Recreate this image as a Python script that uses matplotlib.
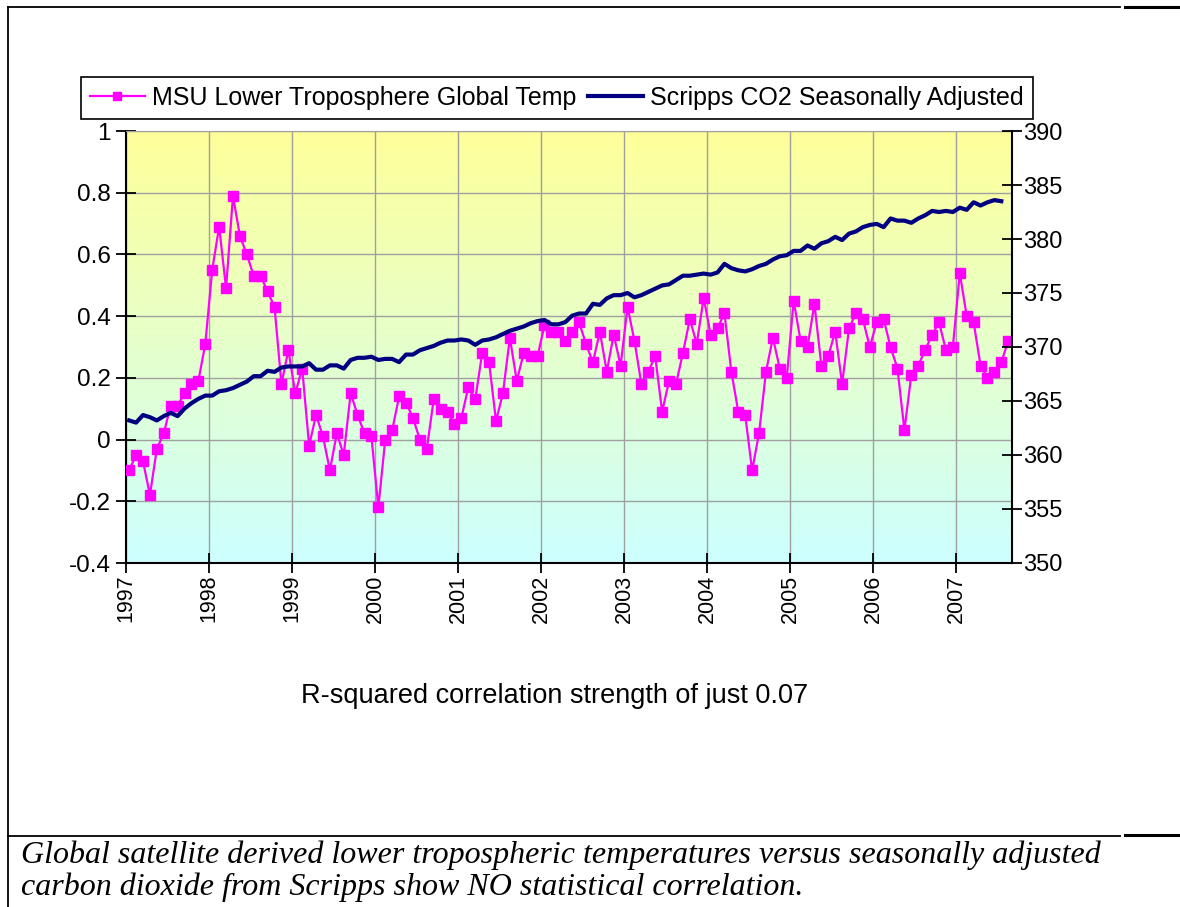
import numpy as np
import matplotlib
matplotlib.use('Agg')
import matplotlib.pyplot as plt
from matplotlib.colors import LinearSegmentedColormap
from matplotlib.lines import Line2D

plt.rcParams['font.family'] = ['Liberation Sans', 'DejaVu Sans']

# ── Data (monthly, Jan 1997 onward) ─────────────────────────────────────────
years = ['1997', '1998', '1999', '2000', '2001', '2002',
         '2003', '2004', '2005', '2006', '2007']

msu_temp = [
    -0.10, -0.05, -0.07, -0.18, -0.03, 0.02, 0.11, 0.11, 0.15, 0.18, 0.19, 0.31,
    0.55, 0.69, 0.49, 0.79, 0.66, 0.60, 0.53, 0.53, 0.48, 0.43, 0.18, 0.29,
    0.15, 0.23, -0.02, 0.08, 0.01, -0.10, 0.02, -0.05, 0.15, 0.08, 0.02, 0.01,
    -0.22, 0.00, 0.03, 0.14, 0.12, 0.07, 0.00, -0.03, 0.13, 0.10, 0.09, 0.05,
    0.07, 0.17, 0.13, 0.28, 0.25, 0.06, 0.15, 0.33, 0.19, 0.28, 0.27, 0.27,
    0.37, 0.35, 0.35, 0.32, 0.35, 0.38, 0.31, 0.25, 0.35, 0.22, 0.34, 0.24,
    0.43, 0.32, 0.18, 0.22, 0.27, 0.09, 0.19, 0.18, 0.28, 0.39, 0.31, 0.46,
    0.34, 0.36, 0.41, 0.22, 0.09, 0.08, -0.10, 0.02, 0.22, 0.33, 0.23, 0.20,
    0.45, 0.32, 0.30, 0.44, 0.24, 0.27, 0.35, 0.18, 0.36, 0.41, 0.39, 0.30,
    0.38, 0.39, 0.30, 0.23, 0.03, 0.21, 0.24, 0.29, 0.34, 0.38, 0.29, 0.30,
    0.54, 0.40, 0.38, 0.24, 0.20, 0.22, 0.25, 0.32,
]

co2 = [
    363.2, 363.0, 363.7, 363.5, 363.2, 363.6, 363.9, 363.6, 364.3, 364.8, 365.2, 365.5,
    365.5, 365.9, 366.0, 366.2, 366.5, 366.8, 367.3, 367.3, 367.8, 367.7, 368.1, 368.2,
    368.2, 368.2, 368.5, 367.9, 367.9, 368.3, 368.3, 368.0, 368.8, 369.0, 369.0, 369.1,
    368.8, 368.9, 368.9, 368.6, 369.3, 369.3, 369.7, 369.9, 370.1, 370.4, 370.6, 370.6,
    370.7, 370.6, 370.2, 370.6, 370.7, 370.9, 371.2, 371.5, 371.7, 371.9, 372.2, 372.4,
    372.5, 372.1, 372.1, 372.3, 372.9, 373.1, 373.1, 374.0, 373.9, 374.5, 374.8, 374.8,
    375.0, 374.6, 374.8, 375.1, 375.4, 375.7, 375.8, 376.2, 376.6, 376.6, 376.7, 376.8,
    376.7, 376.9, 377.7, 377.3, 377.1, 377.0, 377.2, 377.5, 377.7, 378.1, 378.4, 378.5,
    378.9, 378.9, 379.4, 379.1, 379.6, 379.8, 380.2, 379.9, 380.5, 380.7, 381.1, 381.3,
    381.4, 381.1, 381.9, 381.7, 381.7, 381.5, 381.9, 382.2, 382.6, 382.5, 382.6, 382.5,
    382.9, 382.7, 383.4, 383.1, 383.4, 383.6, 383.5,
]

temp_ticks = [-0.4, -0.2, 0, 0.2, 0.4, 0.6, 0.8, 1]
temp_labels = ['-0.4', '-0.2', '0', '0.2', '0.4', '0.6', '0.8', '1']
co2_ticks = [350, 355, 360, 365, 370, 375, 380, 385, 390]

n_months = len(msu_temp)
x_temp = np.arange(len(msu_temp)) + 0.5
x_co2 = np.arange(len(co2)) + 0.5

MAGENTA = '#FF00FF'
NAVY = '#000080'
GRID = '#A0A0A0'

# ── Figure ───────────────────────────────────────────────────────────────
W, H = 1180, 907
fig = plt.figure(figsize=(W / 100, H / 100), dpi=100)
fig.patch.set_facecolor('white')

left, right, top, bottom = 125.7, 1011.7, 131, 563
ax = fig.add_axes([left / W, 1 - bottom / H, (right - left) / W, (bottom - top) / H])

# gradient plot-area fill: yellow on top, pale cyan at the bottom
cmap = LinearSegmentedColormap.from_list('bg', ['#CCFFFF', '#FFFF99'])
grad = np.linspace(0, 1, 256).reshape(-1, 1)
ax.imshow(grad, cmap=cmap, origin='lower', aspect='auto',
          extent=[0, n_months, -0.4, 1], zorder=0)

ax.plot(x_temp, msu_temp, color=MAGENTA, lw=1.6, marker='s', ms=6.5,
        mec=MAGENTA, mfc=MAGENTA, zorder=3)

ax.set_xlim(0, n_months)
ax.set_ylim(-0.4, 1)
ax.set_yticks(temp_ticks)
ax.set_yticklabels(temp_labels)
ax.set_xticks(np.arange(len(years)) * 12)
ax.set_xticklabels(years, rotation=90)
ax.grid(True, color=GRID, lw=1)
ax.tick_params(direction='inout', length=15, width=1.3, pad=3)
ax.tick_params(axis='y', labelsize=17.5)
ax.tick_params(axis='x', labelsize=15.5, pad=1)

for side in ['left', 'bottom']:
    ax.spines[side].set_color('black')
    ax.spines[side].set_linewidth(1.5)
ax.spines['top'].set_color(GRID)
ax.spines['right'].set_visible(False)

ax2 = ax.twinx()
ax2.plot(x_co2, co2, color=NAVY, lw=3)
ax2.set_ylim(350, 390)
ax2.set_yticks(co2_ticks)
ax2.tick_params(direction='inout', length=15, width=1.3, labelsize=17, pad=1)
ax2.spines['right'].set_color('black')
ax2.spines['right'].set_linewidth(1.5)
for side in ['left', 'bottom', 'top']:
    ax2.spines[side].set_visible(False)

# legend box above the plot
handles = [
    Line2D([], [], color=MAGENTA, lw=1.6, marker='s', ms=6),
    Line2D([], [], color=NAVY, lw=3),
]
labels = ['MSU Lower Troposphere Global Temp', 'Scripps CO2 Seasonally Adjusted']
leg = fig.legend(handles, labels, loc='upper left', ncol=2,
                 bbox_to_anchor=(81 / W, 1 - 77 / H),
                 fontsize=18, frameon=True, fancybox=False, framealpha=1,
                 edgecolor='black', handlelength=2.2, handletextpad=0.3,
                 columnspacing=0.45, borderpad=0.35, borderaxespad=0)
leg.get_frame().set_linewidth(1.2)

fig.text(555 / W, 1 - 696 / H, 'R-squared correlation strength of just 0.07',
         ha='center', va='center', fontsize=19.5)

# table borders around the chart
fig.add_artist(Line2D([8 / W, 1120 / W], [1 - 7 / H, 1 - 7 / H], color='black', lw=1.3))
fig.add_artist(Line2D([1125 / W, 1], [1 - 7 / H, 1 - 7 / H], color='black', lw=2.2))
fig.add_artist(Line2D([8 / W, 8 / W], [0, 1 - 7 / H], color='black', lw=1.3))
fig.add_artist(Line2D([8 / W, 1120 / W], [1 - 836 / H, 1 - 836 / H], color='black', lw=1.3))
fig.add_artist(Line2D([1125 / W, 1], [1 - 835 / H, 1 - 835 / H], color='black', lw=2.2))

caption = ('Global satellite derived lower tropospheric temperatures versus seasonally adjusted\n'
           'carbon dioxide from Scripps show NO statistical correlation.')
fig.text(21 / W, 1 - 841 / H, caption, ha='left', va='top', fontsize=23,
         family=['Liberation Serif', 'DejaVu Serif'], style='italic',
         linespacing=1.1)

plt.savefig('out.png', dpi=100)
